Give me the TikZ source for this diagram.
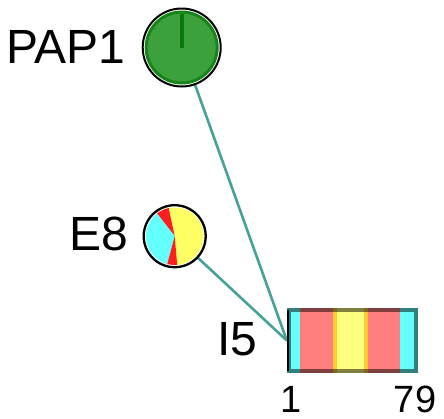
\documentclass[tikz,border=0pt]{standalone}
\usepackage{fontspec}
\setmainfont{Liberation Sans}
\usetikzlibrary{backgrounds}
\definecolor{edgeteal}{RGB}{68,162,152}
\definecolor{nodegreen}{RGB}{60,160,60}
\definecolor{ringgreen}{RGB}{22,132,22}
\definecolor{tickgreen}{RGB}{10,120,10}
\definecolor{segcyan}{RGB}{100,255,255}
\definecolor{segred}{RGB}{255,127,127}
\definecolor{segyellow}{RGB}{255,255,127}
\definecolor{seggold}{RGB}{255,205,50}
\definecolor{piecyan}{RGB}{100,255,255}
\definecolor{pieyellow}{RGB}{255,255,100}
\definecolor{piered}{RGB}{255,30,30}
\begin{document}
\begin{tikzpicture}[x=1pt,y=-1pt,
  edge/.style={edgeteal, line width=2.6pt},
  bignode/.style={circle, draw=black, line width=2pt, fill=white, inner sep=0pt},
  lbl/.style={inner sep=0pt, anchor=base, font=\fontsize{48pt}{52pt}\selectfont},
  poslbl/.style={inner sep=0pt, anchor=base, text depth=0pt, font=\fontsize{38pt}{42pt}\selectfont},
  segbox/.style={rectangle, inner sep=0pt, minimum width=131pt, minimum height=65pt}]
\useasboundingbox (0,0) rectangle (444,418);

% protein nodes
\node[bignode, minimum size=78pt] (pap1) at (181.7,47.5) {};
\filldraw[fill=nodegreen, draw=ringgreen, line width=3pt] (pap1.center) circle[radius=35.5pt];
\draw[tickgreen, line width=4.2pt] (pap1.center) -- ++(90:34pt);

\node[bignode, minimum size=62pt, line width=2.3pt] (e8) at (174.7,236.2) {};
\fill[pieyellow] (e8.center) -- ++(-85:28.8pt) arc[start angle=-85, end angle=102, radius=28.8pt] -- cycle;
\fill[piered] (e8.center) -- ++(102:28.8pt) arc[start angle=102, end angle=128, radius=28.8pt] -- cycle;
\fill[piecyan] (e8.center) -- ++(128:28.8pt) arc[start angle=128, end angle=255, radius=28.8pt] -- cycle;
\fill[piered] (e8.center) -- ++(255:28.8pt) arc[start angle=255, end angle=275, radius=28.8pt] -- cycle;

% segmented sequence box
\node[segbox] (i5) at (352.5,340.5) {};
\fill[segcyan]   (287,308) rectangle (300,373);
\fill[segred]    (300,308) rectangle (333,373);
\fill[seggold]   (333,308) rectangle (337,373);
\fill[segyellow] (337,308) rectangle (364,373);
\fill[seggold]   (364,308) rectangle (368,373);
\fill[segred]    (368,308) rectangle (400,373);
\fill[segcyan]   (400,308) rectangle (418,373);
\draw[black, opacity=0.5, line width=4pt] (289,310) rectangle (416,371);
\draw[black, line width=2.6pt] (i5.north west) ++(1.3,2) -- ++(0,61);

% connectors
\begin{scope}[on background layer]
\draw[edge] (pap1.center) -- (i5.west);
\draw[edge] (e8.center) -- (i5.west);
\end{scope}

% labels
\node[lbl] (tpap1) at (66,63) {PAP1};
\node[lbl] (te8) at (99.2,250) {E8};
\node[lbl] (ti5) at (237.3,355) {I5};
\node[poslbl] (tstart) at (291.5,412) {1};
\node[poslbl] (tend) at (415,412) {79};
\end{tikzpicture}
\end{document}
